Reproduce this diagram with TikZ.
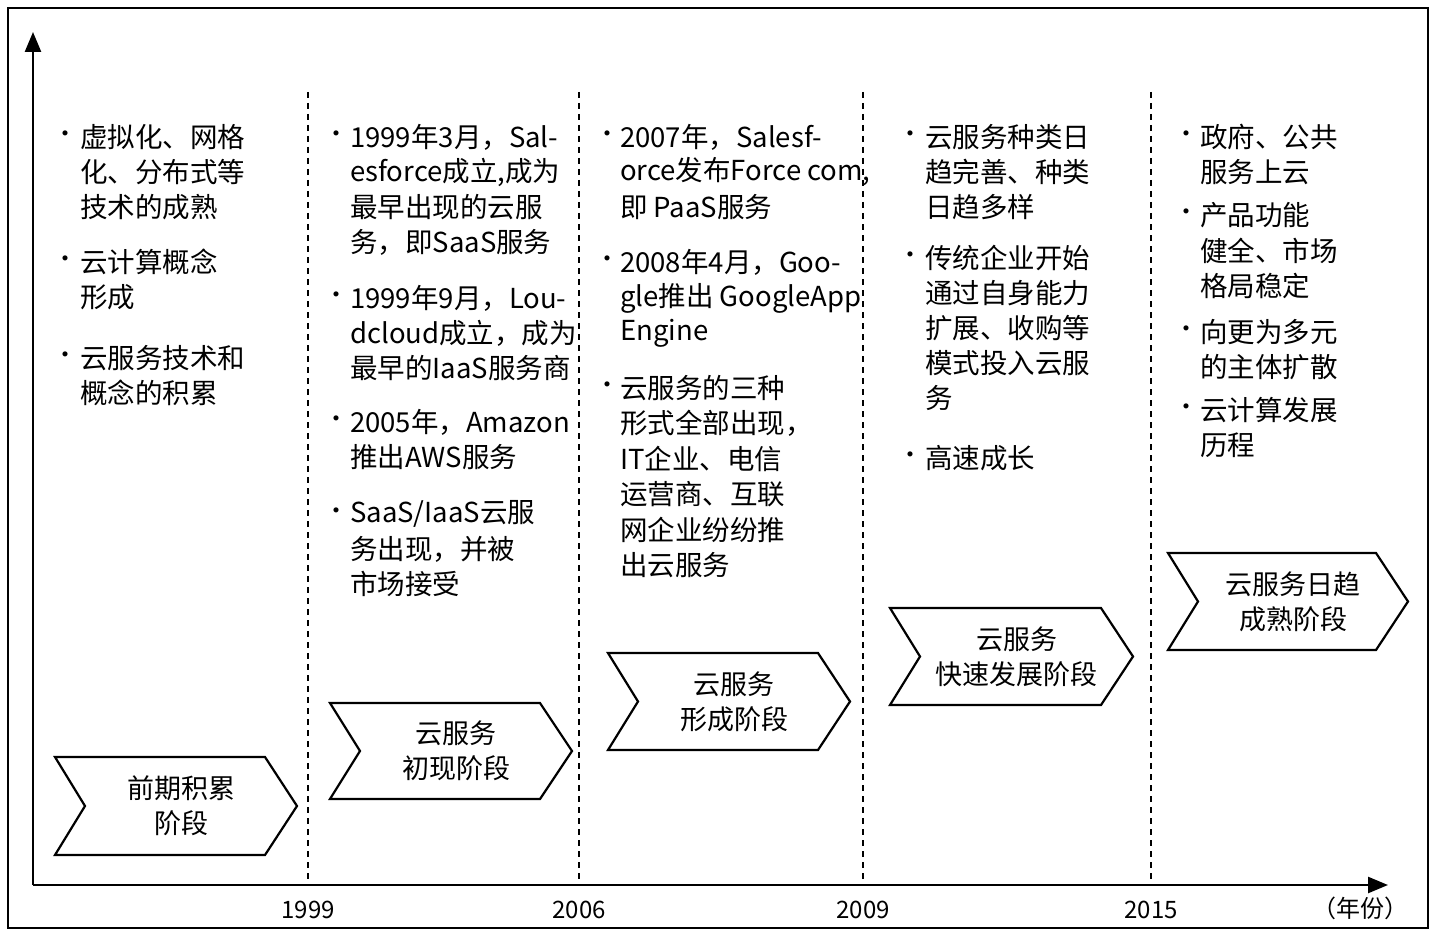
\documentclass[tikz,border=0pt]{standalone}
\usepackage{fontspec}
\setmainfont{Noto Sans CJK SC}
\usetikzlibrary{arrows.meta}
\begin{document}
\begin{tikzpicture}[x=1pt,y=-1pt,
  t/.style={anchor=west,inner sep=0pt,font=\fontsize{27.5}{30}\selectfont},
  bt/.style={anchor=center,inner sep=0pt,font=\fontsize{24}{30}\selectfont},
  yr/.style={inner sep=0pt,font=\fontsize{24}{28}\selectfont},
  ph/.style={align=center,inner sep=0pt,font=\fontsize{27}{35}\selectfont},
  chev/.style={draw,line width=2.2pt,fill=white,line join=miter},
  dl/.style={dashed,line width=2pt,dash pattern=on 6pt off 5pt},
  ax/.style={line width=2.5pt,-{Triangle[length=20pt,width=16pt]}}]
\useasboundingbox (0,0) rectangle (1437,936);
\draw[line width=1.5pt] (8,8) rectangle (1428,928);
\coordinate (o) at (33,885);
\coordinate (yt) at (33,32);
\coordinate (xt) at (1388,885);
\draw[ax] (o) -- (yt);
\draw[ax] (o) -- (xt);
\foreach \x/\y in {308/1999,579/2006,863/2009,1151/2015}{
  \coordinate (a\y) at (\x,92); \coordinate (b\y) at (\x,885);
  \draw[dl] (a\y) -- (b\y);
  \node[yr] (y\y) at (\x,910) {\y};
}
\node[yr] (unit) at (1360,908) {（年份）};
% chevrons
\newcommand\mychev[5]{% x1 x2 y1 y2 name
  \draw[chev] (#1,#3) -- ({#2-32},#3) -- (#2,{(#3+#4)/2}) -- ({#2-32},#4) -- (#1,#4) -- ({#1+30},{(#3+#4)/2}) -- cycle;
  \coordinate (#5) at ({(#1+#2)/2+5},{(#3+#4)/2});}
\mychev{55}{297}{757}{855}{c1}
\mychev{330}{572}{703}{799}{c2}
\mychev{608}{850}{653}{750}{c3}
\mychev{890}{1133}{608}{705}{c4}
\mychev{1168}{1408}{553}{650}{c5}
\node[ph] (p1) at (c1) {前期积累\\阶段};
\node[ph] (p2) at (c2) {云服务\\初现阶段};
\node[ph] (p3) at (c3) {云服务\\形成阶段};
\node[ph] (p4) at (c4) {云服务\\快速发展阶段};
\node[ph] (p5) at (c5) {云服务日趋\\成熟阶段};
\newcommand\mybul[3]{\node[bt] (b#1#2) at (#1,#2) {·};}
\newcommand\myln[3]{\node[t] (l#1#2) at (#1,#2) {#3};}
% column 1
\mybul{65}{137}{} \myln{80}{137}{虚拟化、网格} \myln{80}{172}{化、分布式等} \myln{80}{207}{技术的成熟}
\mybul{65}{262}{} \myln{80}{262}{云计算概念} \myln{80}{297}{形成}
\mybul{65}{358}{} \myln{80}{358}{云服务技术和} \myln{80}{393}{概念的积累}
% column 2
\mybul{336}{137}{} \myln{350}{137}{1999年3月，Sal-} \myln{350}{172}{esforce成立,成为} \myln{350}{207}{最早出现的云服} \myln{350}{242}{务，即SaaS服务}
\mybul{336}{298}{} \myln{350}{298}{1999年9月，Lou-} \myln{350}{333}{dcloud成立，成为} \myln{350}{368}{最早的IaaS服务商}
\mybul{336}{422}{} \myln{350}{422}{2005年，Amazon} \myln{350}{457}{推出AWS服务}
\mybul{336}{514}{} \myln{350}{514}{SaaS/IaaS云服} \myln{350}{549}{务出现，并被} \myln{350}{584}{市场接受}
% column 3
\mybul{607}{137}{} \myln{620}{137}{2007年，Salesf-} \myln{620}{172}{orce发布Force com,} \myln{620}{207}{即 PaaS服务}
\mybul{607}{262}{} \myln{620}{262}{2008年4月，Goo-} \myln{620}{298}{gle推出 GoogleApp} \myln{620}{333}{Engine}
\mybul{607}{388}{} \myln{620}{388}{云服务的三种} \myln{620}{423}{形式全部出现，} \myln{620}{459}{IT企业、电信} \myln{620}{494}{运营商、互联} \myln{620}{530}{网企业纷纷推} \myln{620}{565}{出云服务}
% column 4
\mybul{910}{137}{} \myln{925}{137}{云服务种类日} \myln{925}{172}{趋完善、种类} \myln{925}{207}{日趋多样}
\mybul{910}{258}{} \myln{925}{258}{传统企业开始} \myln{925}{293}{通过自身能力} \myln{925}{328}{扩展、收购等} \myln{925}{363}{模式投入云服} \myln{925}{398}{务}
\mybul{910}{458}{} \myln{925}{458}{高速成长}
% column 5
\mybul{1186}{137}{} \myln{1200}{137}{政府、公共} \myln{1200}{172}{服务上云}
\mybul{1186}{215}{} \myln{1200}{215}{产品功能} \myln{1200}{251}{健全、市场} \myln{1200}{286}{格局稳定}
\mybul{1186}{332}{} \myln{1200}{332}{向更为多元} \myln{1200}{367}{的主体扩散}
\mybul{1186}{410}{} \myln{1200}{410}{云计算发展} \myln{1200}{445}{历程}
\end{tikzpicture}
\end{document}
